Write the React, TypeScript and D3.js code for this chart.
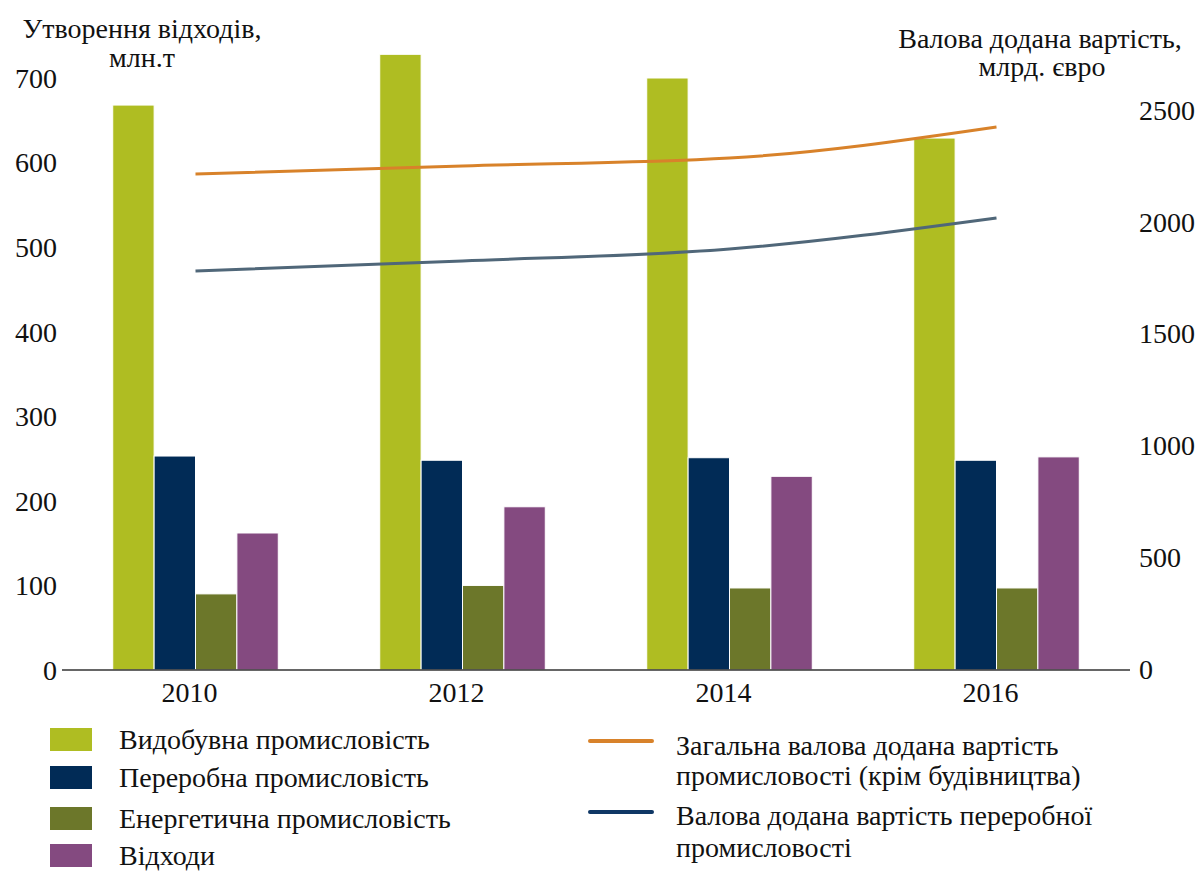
import React from "react";
import * as d3 from "d3";

const years = ["2010", "2012", "2014", "2016"];
const seriesNames = [
  "Видобувна промисловість",
  "Переробна промисловість",
  "Енергетична промисловість",
  "Відходи",
];
const mining = [668, 728, 700, 629];
const manufacturing = [253, 248, 251, 248];
const energy = [90, 100, 97, 97];
const waste = [162, 193, 229, 252];
const totalGva = [2214, 2250, 2285, 2424];
const manufGva = [1780, 1825, 1878, 2017];
const leftTicks = [0, 100, 200, 300, 400, 500, 600, 700];
const rightTicks = [0, 500, 1000, 1500, 2000, 2500];

const barColors = ["#afbd22", "#012b56", "#6c772a", "#844a80"];
const lineColors = ["#d8822a", "#506779"];
const legendLineColors = ["#d8822a", "#0f3765"];
const FONT = "'Liberation Serif', 'Times New Roman', serif";
const FS = 28;

export default function App() {
  const W = 1200, H = 872;
  const x0 = d3.scaleBand<string>().domain(years).range([62, 1130]).paddingInner(0.38).paddingOuter(0.19);
  const x1 = d3.scaleBand<number>().domain([0, 1, 2, 3]).range([0, x0.bandwidth()]).padding(0);
  const xp = d3.scalePoint<string>().domain(years).range([62, 1130]).padding(0.5);
  const yL = d3.scaleLinear().domain([0, 700]).range([670, 78]);
  const yR = d3.scaleLinear().domain([0, 2500]).range([669, 110]);
  const barSeries = [mining, manufacturing, energy, waste];
  const lineSeries = [totalGva, manufGva];
  const line = d3.line<number>()
    .x((_, i) => xp(years[i]) as number)
    .y((v) => yR(v))
    .curve(d3.curveMonotoneX);

  return (
    <svg width={W} height={H} style={{ position: "absolute", left: 0, top: 0, background: "#fff" }} fontFamily={FONT}>
      {years.map((yr, gi) => (
        <g key={yr} transform={`translate(${x0(yr)},0)`}>
          {barSeries.map((s, si) => (
            <rect key={si} x={x1(si)} y={yL(s[gi])} width={x1.bandwidth()} height={yL(0) - yL(s[gi])}
              fill={barColors[si]} stroke="#ffffff" strokeWidth={1} />
          ))}
        </g>
      ))}
      <line x1={62} x2={1130} y1={yL(0)} y2={yL(0)} stroke="#333" strokeWidth={1.3} />
      {lineSeries.map((s, i) => (
        <path key={i} d={line(s) || ""} fill="none" stroke={lineColors[i]} strokeWidth={3} />
      ))}
      {leftTicks.map((t) => (
        <text key={t} x={57} y={yL(t)} dy="0.35em" textAnchor="end" fontSize={FS} fill="#111">{t}</text>
      ))}
      {rightTicks.map((t) => (
        <text key={t} x={1139} y={yR(t)} dy="0.35em" textAnchor="start" fontSize={FS} fill="#111">{t}</text>
      ))}
      {years.map((yr) => (
        <text key={yr} x={(xp(yr) as number) - 6} y={692} dy="0.35em" textAnchor="middle" fontSize={FS} fill="#111">{yr}</text>
      ))}
      <text x={142} y={38} textAnchor="middle" fontSize={FS} fill="#111">Утворення відходів,</text>
      <text x={142} y={67} textAnchor="middle" fontSize={FS} fill="#111">млн.т</text>
      <text x={1040} y={48} textAnchor="middle" fontSize={FS} fill="#111">Валова додана вартість,</text>
      <text x={1042} y={76} textAnchor="middle" fontSize={FS} fill="#111">млрд. євро</text>
      {seriesNames.map((n, i) => {
        const ys = [739, 777, 818, 855];
        return (
          <g key={n}>
            <rect x={50} y={ys[i] - 11} width={42} height={23} fill={barColors[i]} />
            <text x={119} y={ys[i]} dy="0.35em" fontSize={FS} fill="#111">{n}</text>
          </g>
        );
      })}
      <line x1={590} x2={652} y1={741} y2={741} stroke={legendLineColors[0]} strokeWidth={4} strokeLinecap="round" />
      <text x={676} y={745} dy="0.35em" fontSize={FS} fill="#111">Загальна валова додана вартість</text>
      <text x={676} y={775} dy="0.35em" fontSize={FS} fill="#111">промисловості (крім будівництва)</text>
      <line x1={590} x2={652} y1={812} y2={812} stroke={legendLineColors[1]} strokeWidth={4} strokeLinecap="round" />
      <text x={676} y={815} dy="0.35em" fontSize={FS} fill="#111">Валова додана вартість переробної</text>
      <text x={676} y={847} dy="0.35em" fontSize={FS} fill="#111">промисловості</text>
    </svg>
  );
}
